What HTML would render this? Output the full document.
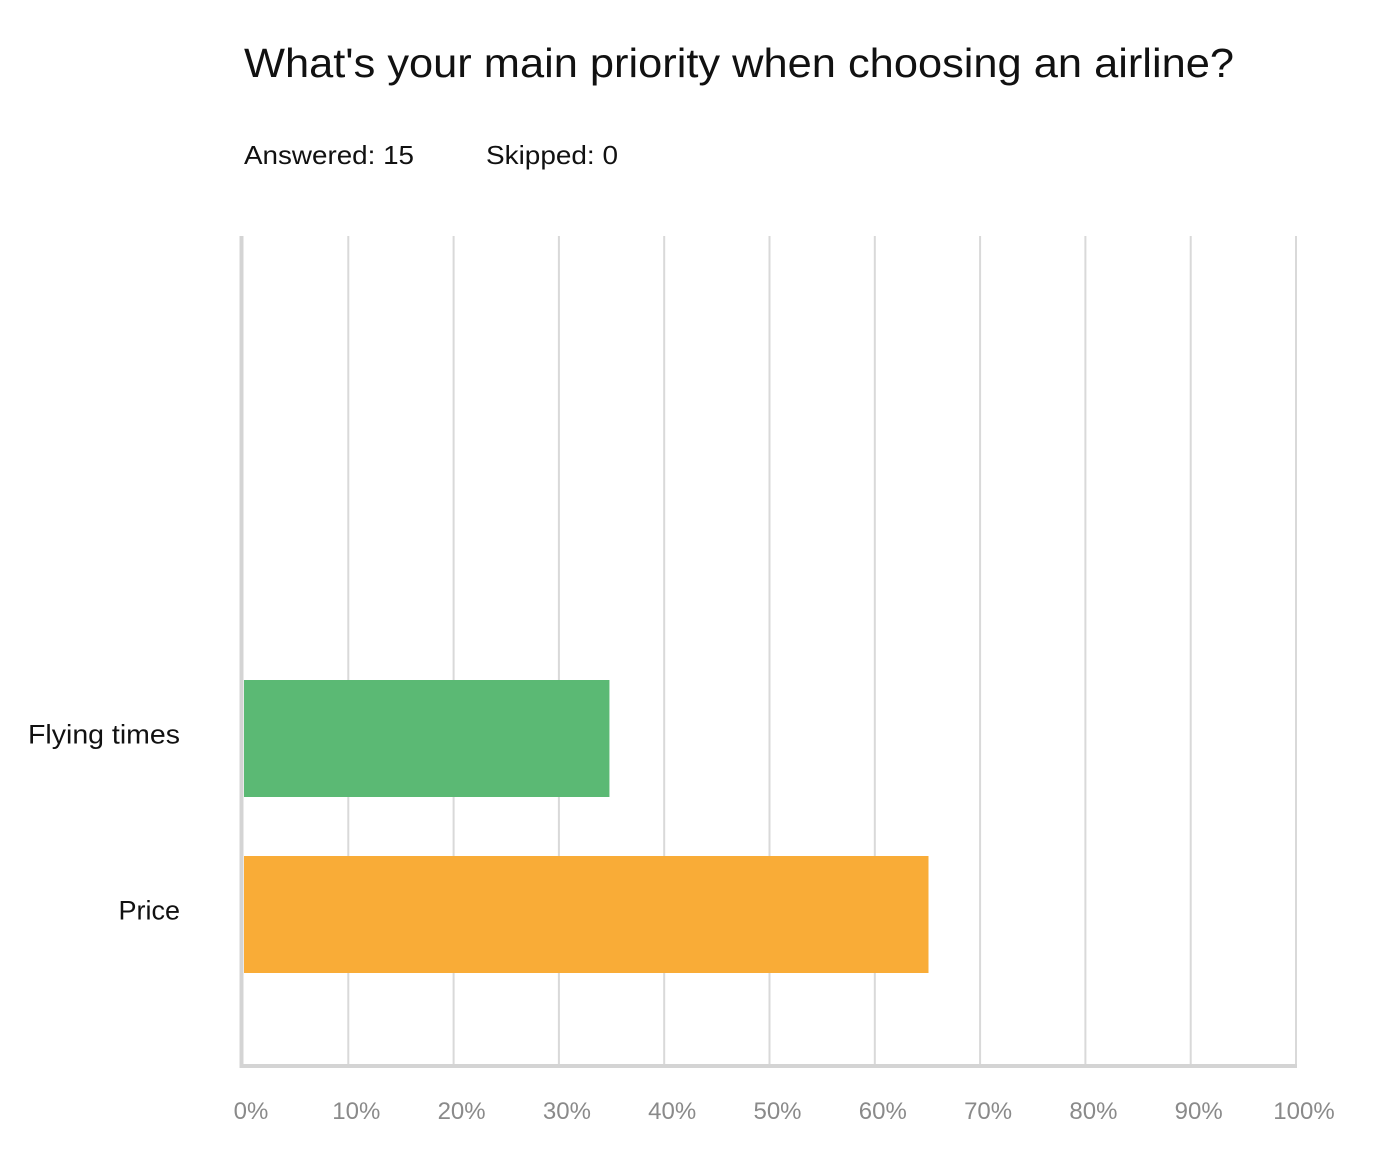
<!DOCTYPE html>
<html><head><meta charset="utf-8"><style>
body{margin:0;background:#fff;width:1376px;height:1150px;overflow:hidden;font-family:"Liberation Sans",sans-serif}
</style></head><body>
<svg width="1376" height="1150" xmlns="http://www.w3.org/2000/svg">
<text x="244" y="77" font-size="41" fill="#111" textLength="990" lengthAdjust="spacingAndGlyphs">What's your main priority when choosing an airline?</text>
<text x="244" y="164" font-size="26" fill="#111" textLength="170" lengthAdjust="spacingAndGlyphs">Answered: 15</text>
<text x="486" y="164" font-size="26" fill="#111" textLength="132" lengthAdjust="spacingAndGlyphs">Skipped: 0</text>
<g id="grid"></g><g id="bars"></g><g id="labels"></g>
</svg>
<script>
const categories=["Flying times","Price"];
const values=[34.8,65.1];
const tickValues=[0,10,20,30,40,50,60,70,80,90,100];
const tickLabels=["0%","10%","20%","30%","40%","50%","60%","70%","80%","90%","100%"];
const colors=["#5bb974","#f9ac37"];
const NS="http://www.w3.org/2000/svg";
const x0=243,x1=1296,plotTop=236,plotBottom=1065;
const xs=v=>x0+(x1-x0)*v/100;
const barTops=[680,856],barH=117;
const g=document.getElementById('grid'),b=document.getElementById('bars'),l=document.getElementById('labels');
function mk(tag,attrs,parent){const e=document.createElementNS(NS,tag);for(const k in attrs)e.setAttribute(k,attrs[k]);parent.appendChild(e);return e;}
tickValues.forEach((v,i)=>{
  if(i>0){const ln=mk('line',{x1:xs(v),x2:xs(v),y1:plotTop,y2:plotBottom,stroke:'#d9d9d9','stroke-width':2},g);
  
  }
  const t=mk('text',{x:xs(v)+8,y:1119,'font-size':24,fill:'#8a8a8a','text-anchor':'middle'},l);
  t.textContent=tickLabels[i];
  
  
});
const ya=mk('line',{x1:241.5,x2:241.5,y1:plotTop,y2:1068,stroke:'#d4d4d4','stroke-width':4},g);


const xa=mk('line',{x1:240,x2:x1+1,y1:1066,y2:1066,stroke:'#d4d4d4','stroke-width':4},g);


categories.forEach((c,i)=>{
  const r=mk('rect',{x:x0+1,y:barTops[i],width:xs(values[i])-x0-1,height:barH,fill:colors[i]},b);
  
  
  const t=mk('text',{x:180,y:barTops[i]+barH/2+5,'font-size':27,fill:'#111','text-anchor':'end'},l);
  if(c.length>6){t.setAttribute('textLength',152);t.setAttribute('lengthAdjust','spacingAndGlyphs');}
  t.textContent=c;
  
  
});
</script>
</body></html>
